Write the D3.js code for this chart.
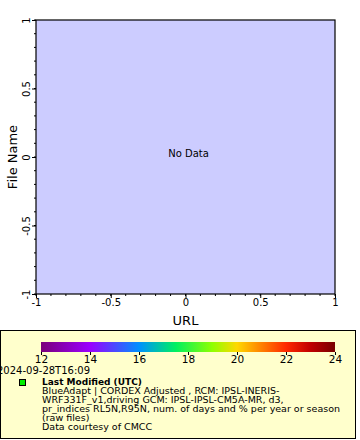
<!DOCTYPE html>
<html><head><meta charset="utf-8">
<script src="https://cdn.jsdelivr.net/npm/d3@7"></script>
<style>body{margin:0;background:#fff}svg{display:block}text{font-family:"DejaVu Sans",sans-serif}</style>
</head><body><svg id="c" width="360" height="440"></svg>
<script>
const xDomain = [-1, 1];
const yDomain = [-1, 1];
const xTicks = [-1, -0.5, 0, 0.5, 1];
const yTicks = [-1, -0.5, 0, 0.5, 1];
const colorTicks = [12, 14, 16, 18, 20, 22, 24];
const colorStopValues = [12, 14, 16, 17.5, 19, 20, 21, 22, 23, 24];
const colorStopColors = ["#7a007a", "#9a00ff", "#0090ff", "#00f060", "#90ff00", "#ffd800", "#ff8000", "#ff2a00", "#c00000", "#780000"];
const xLabel = "URL";
const yLabel = "File Name";
const noDataText = "No Data";
const timestamp = "2024-09-28T16:09";
const legendTitle = "Last Modified (UTC)";
const legendLines = [
  "BlueAdapt | CORDEX Adjusted , RCM: IPSL-INERIS-",
  "WRF331F_v1,driving GCM: IPSL-IPSL-CM5A-MR, d3,",
  "pr_indices RL5N,R95N, num. of days and % per year or season",
  "(raw files)",
  "Data courtesy of CMCC"
];

const fmt = d => String(d);
const svg = d3.select("#c");
const L = 36, R = 335, T = 20, B = 294;
const x = d3.scaleLinear().domain(xDomain).range([L, R]);
const y = d3.scaleLinear().domain(yDomain).range([B, T]);

svg.append("rect").attr("x", L).attr("y", T).attr("width", R - L).attr("height", B - T)
  .attr("fill", "#ccccff");

const minor = d3.range(-10, 11).map(d => d / 10);
svg.append("g").selectAll("line").data(minor).join("line")
  .attr("x1", d => x(d)).attr("x2", d => x(d)).attr("y1", B).attr("y2", B + 2)
  .attr("stroke", "#000");
svg.append("g").selectAll("line").data(minor).join("line")
  .attr("y1", d => y(d)).attr("y2", d => y(d)).attr("x1", L).attr("x2", L - 2)
  .attr("stroke", "#000");

const xa = svg.append("g").attr("transform", `translate(0,${B})`)
  .call(d3.axisBottom(x).tickValues(xTicks).tickSize(4).tickSizeOuter(0).tickFormat(fmt));
xa.select(".domain").remove();
xa.selectAll("text").attr("font-size", 10).attr("font-family", "DejaVu Sans").attr("dy", "0.71em").attr("y", 5).attr("fill", "#000");

const ya = svg.append("g").attr("transform", `translate(${L},0)`)
  .call(d3.axisLeft(y).tickValues(yTicks).tickSize(4).tickSizeOuter(0).tickFormat(fmt));
ya.select(".domain").remove();
ya.selectAll("text").attr("font-size", 10).attr("font-family", "DejaVu Sans")
  .attr("x", 0).attr("dy", 0).attr("text-anchor", "middle")
  .attr("transform", "translate(-6,0) rotate(-90)").attr("fill", "#000");

svg.append("rect").attr("x", L).attr("y", T).attr("width", R - L).attr("height", B - T)
  .attr("fill", "none").attr("stroke", "#000").attr("stroke-width", 1.2);

svg.append("text").attr("x", x(0.02)).attr("y", y(0.02)).attr("text-anchor", "middle")
  .attr("font-size", 10).attr("dominant-baseline", "middle").text(noDataText);

svg.append("text").attr("x", (L + R) / 2).attr("y", 325).attr("text-anchor", "middle")
  .attr("font-size", 13).text(xLabel);
svg.append("text").attr("transform", `translate(17,${(T + B) / 2}) rotate(-90)`)
  .attr("text-anchor", "middle").attr("font-size", 13).text(yLabel);

svg.append("rect").attr("x", 0.5).attr("y", 330.5).attr("width", 355).attr("height", 108)
  .attr("fill", "#ffffcc").attr("stroke", "#000").attr("stroke-width", 1);

const c = d3.scaleLinear().domain([colorTicks[0], colorTicks[colorTicks.length - 1]]).range([41, 335]);
const grad = svg.append("defs").append("linearGradient").attr("id", "g1");
grad.selectAll("stop").data(colorStopValues).join("stop")
  .attr("offset", d => (d - colorTicks[0]) / (colorTicks[colorTicks.length - 1] - colorTicks[0]))
  .attr("stop-color", (d, i) => colorStopColors[i]);
svg.append("rect").attr("x", c.range()[0]).attr("y", 342).attr("width", c.range()[1] - c.range()[0]).attr("height", 10)
  .attr("fill", "url(#g1)");
const ca = svg.append("g").attr("transform", "translate(0,352)")
  .call(d3.axisBottom(c).tickValues(colorTicks).tickSize(3).tickSizeOuter(0).tickFormat(fmt));
ca.select(".domain").remove();
ca.selectAll("text").attr("font-size", 10.5).attr("font-family", "DejaVu Sans").attr("y", 4).attr("fill", "#000");

svg.append("text").attr("x", -3).attr("y", 374).attr("font-size", 10).text(timestamp);
svg.append("rect").attr("x", 19.5).attr("y", 379.5).attr("width", 6).attr("height", 6)
  .attr("fill", "#00ee00").attr("stroke", "#000");
svg.append("text").attr("x", 42).attr("y", 384.5).attr("font-size", 9).attr("font-weight", "bold").text(legendTitle);
svg.append("g").selectAll("text").data(legendLines).join("text")
  .attr("x", 42).attr("y", (d, i) => 394 + i * 9).attr("font-size", 9.5).text(d => d);
</script></body></html>
